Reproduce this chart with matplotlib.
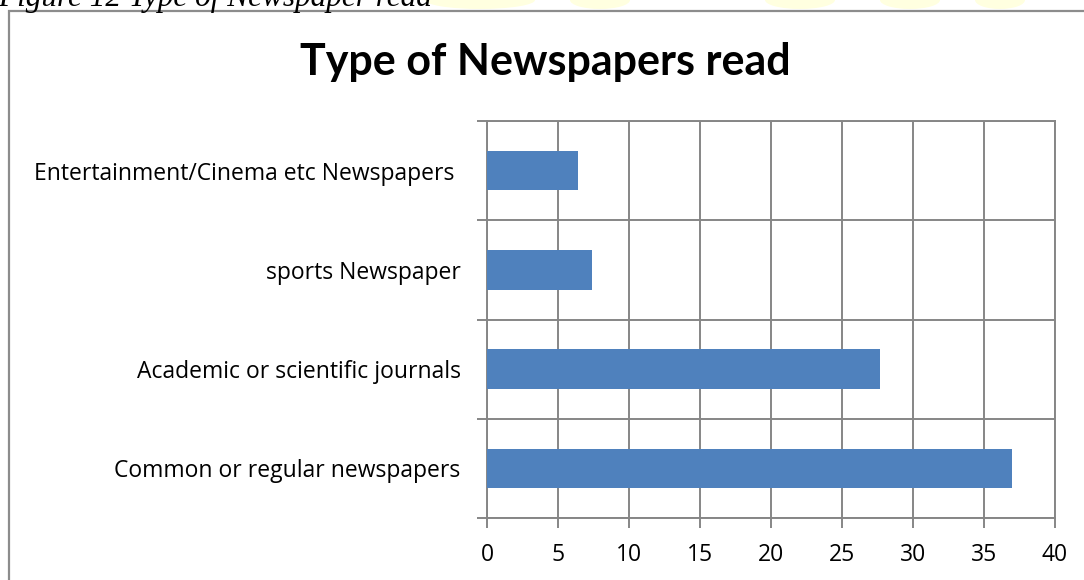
import matplotlib.pyplot as plt
from matplotlib.patches import Rectangle, Ellipse

categories = ['Common or regular newspapers',
              'Academic or scientific journals',
              'sports Newspaper',
              'Entertainment/Cinema etc Newspapers ']
values = [37.0, 27.7, 7.4, 6.4]
x_ticks = [0, 5, 10, 15, 20, 25, 30, 35, 40]

grid_col = '#868686'
bar_col = '#4F81BD'

fig = plt.figure(figsize=(10.84, 5.80), dpi=100)
ax = fig.add_axes([487 / 1084, 1 - 518 / 580, (1055 - 487) / 1084, (518 - 121) / 580])

ypos = list(range(len(categories)))
ax.barh(ypos, values, height=0.4, color=bar_col, zorder=3)

ax.set_xlim(0, 40)
ax.set_ylim(-0.5, len(categories) - 0.5)
ax.set_xticks(x_ticks)
ax.set_xticklabels([str(t) for t in x_ticks])

# category labels sit between the boundary ticks
ax.set_yticks([i - 0.5 for i in range(len(categories) + 1)])
ax.set_yticklabels([])
ax.set_yticks(ypos, minor=True)
ax.set_yticklabels(categories, minor=True)
ax.tick_params(axis='y', which='minor', length=0, pad=19)
ax.tick_params(axis='y', which='major', length=7, width=1.4, color=grid_col, direction='out')
ax.tick_params(axis='x', length=7, width=1.4, color=grid_col, direction='out', pad=11)

for lab in ax.get_xticklabels() + ax.get_yticklabels(minor=True):
    lab.set_fontfamily('Open Sans')
    lab.set_fontsize(16.5)
    lab.set_color('black')

ax.grid(True, which='major', color=grid_col, linewidth=1.4, zorder=0)
ax.set_axisbelow(True)
for s in ax.spines.values():
    s.set_color(grid_col)
    s.set_linewidth(1.4)

fig.text(545 / 1084, 1 - 62 / 580, 'Type of Newspapers read', ha='center', va='center',
         fontsize=31, fontweight='bold', family='Lato')

# outer chart frame, running off the right and bottom edges
fig.patches.append(Rectangle((9 / 1084, -0.1), 1.2, 1.1 - 11 / 580, transform=fig.transFigure,
                             fill=False, edgecolor='#8c8c8c', linewidth=1.6))

# faint yellow watermark behind the caption
for cx, w in [(480, 110), (600, 60), (800, 70), (910, 60), (1000, 50)]:
    fig.patches.append(Ellipse((cx / 1084, 1.0), w / 1084, 18 / 580, transform=fig.transFigure,
                               facecolor='#ffff99', edgecolor='none', alpha=0.3, zorder=0))

fig.text(-2 / 1084, 1 - 6 / 580, 'Figure 12 Type of Newspaper read', ha='left', va='baseline',
         fontsize=22.5, style='italic', family='Liberation Serif')

fig.savefig('out.png', dpi=100)
